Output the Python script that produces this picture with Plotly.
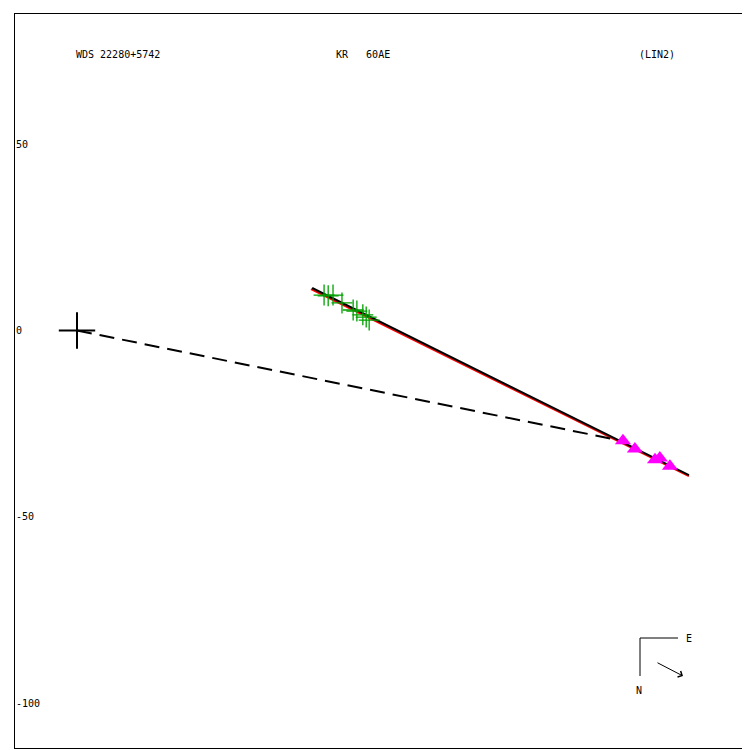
import plotly.graph_objects as go

# ---- data (in plot units) ----
obs_x = [66.3, 67.4, 68.7, 71.1, 74.1, 75.1, 76.7, 77.6, 78.4]
obs_y = [9.5, 9.3, 9.5, 7.4, 5.5, 5.2, 4.2, 3.6, 2.8]
tri_x = [146.5, 149.7, 155.1, 156.4, 159.1]
tri_y = [-29.6, -31.8, -34.7, -34.2, -36.4]
fit_black_x = [63.1, 164.2]
fit_black_y = [11.4, -38.8]
fit_red_x = [62.8, 164.2]
fit_red_y = [11.1, -39.1]
dash_x = [0.0, 146.2]
dash_y = [0.0, -29.6]
ytick_vals = [50, 0, -50, -100]
ytick_text = ["50", "0", "-50", "-100"]

OFF = 8  # page body margin
W = H = 742
L, T, R, B = 7, 6, 1, 2
PW = W - L - R
PH = H - T - B
X0 = OFF + L          # window pixel of plot left edge
Y1 = OFF + H - B      # window pixel of plot bottom edge
SCALE = 3.7267

def px(x):
    return (x - X0) / PW

def py(y):
    return (Y1 - y) / PH

FONT = dict(family="DejaVu Sans Mono", size=10, color="black")

fig = go.Figure()
fig.add_trace(go.Scatter(x=fit_red_x, y=fit_red_y, mode="lines",
                         line=dict(color="red", width=2), hoverinfo="skip"))
fig.add_trace(go.Scatter(x=fit_black_x, y=fit_black_y, mode="lines",
                         line=dict(color="black", width=2), hoverinfo="skip"))
fig.add_trace(go.Scatter(x=dash_x, y=dash_y, mode="lines",
                         line=dict(color="black", width=2, dash="15px,8px"), hoverinfo="skip"))
fig.add_trace(go.Scatter(x=obs_x, y=obs_y, mode="markers",
                         marker=dict(symbol="cross-thin", size=15,
                                     line=dict(color="#00a000", width=1.3))))
fig.add_trace(go.Scatter(x=tri_x, y=tri_y, mode="markers",
                         marker=dict(symbol="triangle-up", size=14, color="#ff00ff",
                                     line=dict(width=0))))
fig.add_trace(go.Scatter(x=[0], y=[0], mode="markers",
                         marker=dict(symbol="cross-thin", size=26,
                                     line=dict(color="black", width=2))))

ann = [
    dict(text="WDS 22280+5742", x=px(74), y=py(55)),
    dict(text="KR   60AE", x=px(334), y=py(55)),
    dict(text="(LIN2)", x=px(637), y=py(55)),
    dict(text="E", x=px(684), y=py(638)),
    dict(text="N", x=px(634), y=py(690)),
]
annotations = [dict(xref="paper", yref="paper", xanchor="left", yanchor="middle",
                    showarrow=False, font=FONT, **a) for a in ann]
# compass arrow
annotations.append(dict(xref="paper", yref="paper", axref="pixel", ayref="pixel",
                        x=px(683), y=py(676), ax=-27, ay=-14,
                        text="", showarrow=True, arrowhead=4, arrowsize=1.3,
                        arrowwidth=1, arrowcolor="black"))

shapes = [
    dict(type="line", xref="paper", yref="paper", x0=px(640), y0=py(638),
         x1=px(678), y1=py(638), line=dict(color="black", width=1)),
    dict(type="line", xref="paper", yref="paper", x0=px(640), y0=py(638),
         x1=px(640), y1=py(676), line=dict(color="black", width=1)),
]

fig.update_layout(
    width=W, height=H, margin=dict(l=L, r=R, t=T, b=B),
    paper_bgcolor="white", plot_bgcolor="white", showlegend=False,
    annotations=annotations, shapes=shapes,
    xaxis=dict(range=[(X0 - 77) / SCALE, (X0 + PW - 77) / SCALE], showgrid=False,
               zeroline=False, showticklabels=False, ticks="",
               showline=True, mirror=True, linecolor="black", linewidth=1),
    yaxis=dict(range=[(330.5 - Y1) / SCALE, (330.5 - (OFF + T)) / SCALE], showgrid=False,
               zeroline=False, tickvals=ytick_vals, ticktext=ytick_text,
               ticks="", ticklabelposition="inside", tickfont=FONT,
               showline=True, mirror=True, linecolor="black", linewidth=1),
)

fig.write_html("out.html")
